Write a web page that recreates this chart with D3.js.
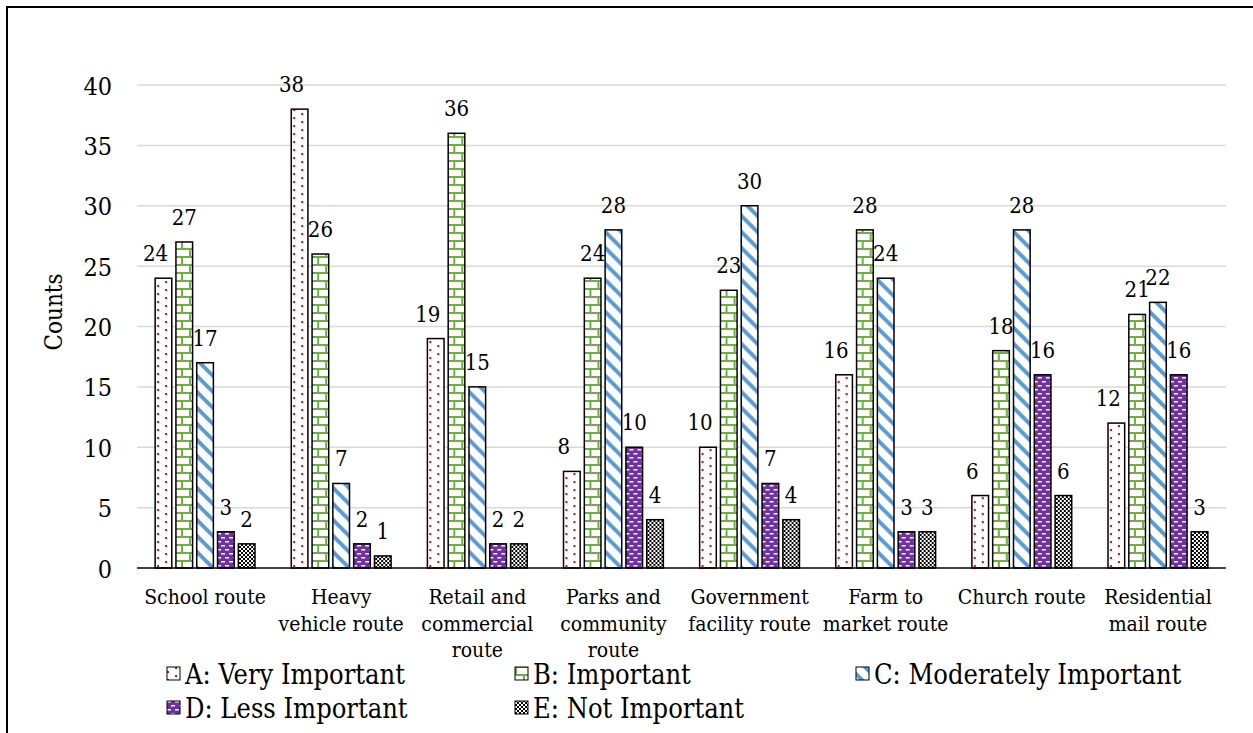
<!DOCTYPE html>
<html>
<head>
<meta charset="utf-8">
<script src="https://cdn.jsdelivr.net/npm/d3@7/dist/d3.min.js"></script>
<style>
  html, body { margin: 0; padding: 0; background: #fff; }
  svg text { font-family: "DejaVu Serif Condensed", "DejaVu Serif", serif; }
</style>
</head>
<body>
<svg id="chart" width="1253" height="733"></svg>
<script>
// Route categories (each label split into its wrapped lines)
const categories = [
  ["School route"],
  ["Heavy", "vehicle route"],
  ["Retail and", "commercial", "route"],
  ["Parks and", "community", "route"],
  ["Government", "facility route"],
  ["Farm to", "market route"],
  ["Church route"],
  ["Residential", "mail route"]
];

// Importance ratings
const seriesNames = [
  "A: Very Important",
  "B: Important",
  "C: Moderately Important",
  "D: Less Important",
  "E: Not Important"
];

// Counts per rating, one value per category
const veryImportant       = [24, 38, 19, 8, 10, 16, 6, 12];
const important           = [27, 26, 36, 24, 23, 28, 18, 21];
const moderatelyImportant = [17, 7, 15, 28, 30, 24, 28, 22];
const lessImportant       = [3, 2, 2, 10, 7, 3, 16, 16];
const notImportant        = [2, 1, 2, 4, 4, 3, 6, 3];

const yTicks = [0, 5, 10, 15, 20, 25, 30, 35, 40];

const seriesValues = [veryImportant, important, moderatelyImportant, lessImportant, notImportant];
const patternIds = ["patA", "patB", "patC", "patD", "patE"];

const svg = d3.select("#chart");

// ---- fill patterns ----
const defs = svg.append("defs");

// A: red dotted
const pA = defs.append("pattern").attr("id", "patA").attr("patternUnits", "userSpaceOnUse")
  .attr("width", 16).attr("height", 8);
pA.append("rect").attr("width", 16).attr("height", 8).attr("fill", "#fff");
pA.append("rect").attr("x", 8).attr("y", 1).attr("width", 2).attr("height", 2).attr("fill", "#ff0000");
pA.append("rect").attr("x", 0).attr("y", 5).attr("width", 2).attr("height", 2).attr("fill", "#ff0000");

// B: green brick
const pB = defs.append("pattern").attr("id", "patB").attr("patternUnits", "userSpaceOnUse")
  .attr("width", 16).attr("height", 16);
pB.append("rect").attr("width", 16).attr("height", 16).attr("fill", "#fff");
pB.append("rect").attr("x", 0).attr("y", 0).attr("width", 16).attr("height", 2).attr("fill", "#70ad47");
pB.append("rect").attr("x", 0).attr("y", 8).attr("width", 16).attr("height", 2).attr("fill", "#70ad47");
pB.append("rect").attr("x", 8).attr("y", 0).attr("width", 2).attr("height", 8).attr("fill", "#70ad47");
pB.append("rect").attr("x", 0).attr("y", 8).attr("width", 2).attr("height", 8).attr("fill", "#70ad47");

// C: blue wide downward diagonal
const pC = defs.append("pattern").attr("id", "patC").attr("patternUnits", "userSpaceOnUse")
  .attr("width", 16).attr("height", 16);
pC.append("rect").attr("width", 16).attr("height", 16).attr("fill", "#fff");
pC.append("path").attr("d", "M-4,-4 L20,20 M-4,12 L4,20 M12,-4 L20,4")
  .attr("stroke", "#5b9bd5").attr("stroke-width", 4);

// D: purple with white dashes
const pD = defs.append("pattern").attr("id", "patD").attr("patternUnits", "userSpaceOnUse")
  .attr("width", 8).attr("height", 8);
pD.append("rect").attr("width", 8).attr("height", 8).attr("fill", "#7030a0");
pD.append("rect").attr("x", 0).attr("y", 1).attr("width", 4).attr("height", 1.5).attr("fill", "#fff");
pD.append("rect").attr("x", 4).attr("y", 5).attr("width", 4).attr("height", 1.5).attr("fill", "#fff");

// E: small black/white checkerboard
const pE = defs.append("pattern").attr("id", "patE").attr("patternUnits", "userSpaceOnUse")
  .attr("width", 4).attr("height", 4);
pE.append("rect").attr("width", 4).attr("height", 4).attr("fill", "#fff");
pE.append("rect").attr("x", 0).attr("y", 0).attr("width", 2).attr("height", 2).attr("fill", "#000");
pE.append("rect").attr("x", 2).attr("y", 2).attr("width", 2).attr("height", 2).attr("fill", "#000");

// ---- frame ----
svg.append("path").attr("d", "M7,733 L7,7 L1253,7")
  .attr("fill", "none").attr("stroke", "#000").attr("stroke-width", 2);

// ---- scales ----
const plotLeft = 137, plotRight = 1226, plotTop = 85, plotBottom = 568;
const y = d3.scaleLinear().domain([0, 40]).range([plotBottom, plotTop]);
const x0 = d3.scaleBand().domain(d3.range(categories.length)).range([plotLeft, plotRight]);
const groupWidth = 104;
const x1 = d3.scaleBand().domain(d3.range(seriesNames.length))
  .range([-groupWidth / 2, groupWidth / 2]).paddingInner(0.2).paddingOuter(0.1);

// ---- gridlines ----
svg.append("g").selectAll("line").data(yTicks.filter(d => d > 0)).join("line")
  .attr("x1", plotLeft).attr("x2", plotRight)
  .attr("y1", d => y(d)).attr("y2", d => y(d))
  .attr("stroke", "#d9d9d9").attr("stroke-width", 1.5);

// ---- y axis labels ----
const yAxis = d3.axisLeft(y).tickValues(yTicks).tickSize(0).tickPadding(0);
const yg = svg.append("g").attr("transform", `translate(112,0)`).call(yAxis);
yg.attr("font-family", null).attr("font-size", null);
yg.select(".domain").remove();
yg.selectAll("text").attr("font-size", 25).attr("fill", "#000").attr("dy", "0.36em");

svg.append("text").attr("transform", "translate(62,312) rotate(-90)")
  .attr("text-anchor", "middle").attr("font-size", 24).attr("fill", "#000").text("Counts");

// ---- bars ----
const groups = svg.append("g").selectAll("g").data(categories.map((c, i) => i)).join("g")
  .attr("transform", i => `translate(${x0(i) + x0.bandwidth() / 2},0)`);

groups.selectAll("rect").data(i => seriesValues.map((vals, s) => ({ s, v: vals[i] }))).join("rect")
  .attr("x", d => x1(d.s))
  .attr("width", x1.bandwidth())
  .attr("y", d => y(d.v))
  .attr("height", d => y(0) - y(d.v))
  .attr("fill", d => `url(#${patternIds[d.s]})`)
  .attr("stroke", "#000").attr("stroke-width", 1.5);

// value labels above each bar (the first series' labels sit slightly left)
groups.selectAll("text.val").data(i => seriesValues.map((vals, s) => ({ s, v: vals[i] }))).join("text")
  .attr("class", "val")
  .attr("x", d => x1(d.s) + x1.bandwidth() / 2 - (d.s === 0 ? 8 : 0))
  .attr("y", d => y(d.v) - 17)
  .attr("text-anchor", "middle").attr("font-size", 22).attr("fill", "#000")
  .text(d => d.v);

// ---- x axis ----
svg.append("line").attr("x1", plotLeft).attr("x2", plotRight)
  .attr("y1", plotBottom).attr("y2", plotBottom).attr("stroke", "#000").attr("stroke-width", 1.5);

const catLabels = svg.append("g").selectAll("text").data(categories).join("text")
  .attr("x", (c, i) => x0(i) + x0.bandwidth() / 2)
  .attr("y", 604)
  .attr("text-anchor", "middle").attr("font-size", 21).attr("fill", "#000");
catLabels.selectAll("tspan").data(c => c).join("tspan")
  .attr("x", function () { return d3.select(this.parentNode).attr("x"); })
  .attr("dy", (d, j) => j === 0 ? 0 : 26.5)
  .text(d => d);

// ---- legend ----
const legendX = [167, 515, 856];
const legendY = [674, 708];
const legend = svg.append("g").selectAll("g").data(seriesNames).join("g")
  .attr("transform", (d, i) => `translate(${legendX[i % 3]},${legendY[Math.floor(i / 3)]})`);
legend.append("rect").attr("x", 0).attr("y", -7).attr("width", 13).attr("height", 13)
  .attr("fill", (d, i) => `url(#${patternIds[i]})`).attr("stroke", "#000").attr("stroke-width", 1);
legend.append("text").attr("x", 18).attr("y", 0).attr("dy", "0.36em")
  .attr("font-size", 27).attr("fill", "#000").text(d => d);
</script>
</body>
</html>
